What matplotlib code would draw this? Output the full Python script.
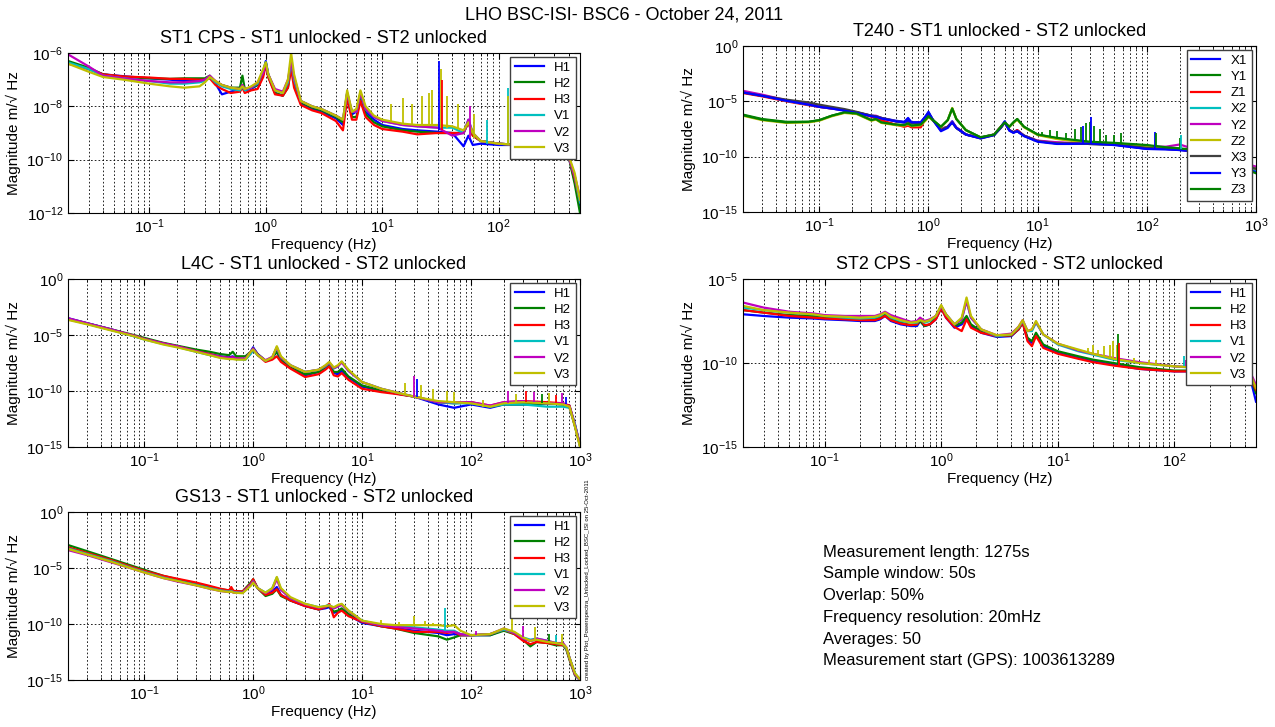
import numpy as np
import matplotlib
matplotlib.use('Agg')
import matplotlib.pyplot as plt
from matplotlib.ticker import LogLocator, NullLocator, NullFormatter

plt.rcParams['font.family'] = ['Liberation Sans', 'DejaVu Sans']
plt.rcParams['mathtext.fontset'] = 'custom'
plt.rcParams['mathtext.rm'] = 'Liberation Sans'

# MATLAB default colour letters
B, G, R, C, M, Y, K = '#0000ff', '#008000', '#ff0000', '#00bfbf', '#bf00bf', '#bfbf00', '#404040'

HV_NAMES = ['H1', 'H2', 'H3', 'V1', 'V2', 'V3']
HV_COLORS = [B, G, R, C, M, Y]
T240_NAMES = ['X1', 'Y1', 'Z1', 'X2', 'Y2', 'Z2', 'X3', 'Y3', 'Z3']
T240_COLORS = [B, G, R, C, M, Y, K, B, G]

# ---------------- ST1 CPS (log10 magnitude) ----------------
cps1_f = [0.02, 0.03, 0.04, 0.06, 0.1, 0.15, 0.2, 0.27, 0.3, 0.33, 0.37, 0.42, 0.5, 0.6, 0.63, 0.66, 0.75,
          0.85, 0.95, 1.0, 1.05, 1.2, 1.4, 1.55, 1.65, 1.75, 2.0, 2.5, 3.0, 4.0, 4.6, 5.0, 5.5, 6.0, 6.5, 7.2,
          8.5, 10, 15, 20, 30, 40, 50, 55, 60, 70, 100, 150, 200, 300, 400, 450, 500]
cps1_h1 = [-6.35, -6.6, -6.8, -6.87, -6.95, -7.0, -7.05, -7.05, -7.0, -6.9, -7.15, -7.55, -7.45, -7.35, -7.2, -7.4,
           -7.35, -7.2, -6.7, -6.3, -6.8, -7.5, -7.6, -7.2, -6.4, -7.0, -7.9, -8.1, -8.2, -8.45, -8.7, -7.5, -8.3,
           -8.2, -7.6, -8.2, -8.5, -8.7, -8.85, -8.9, -8.95, -9.0, -9.5, -9.1, -9.45, -9.4, -9.45, -9.45, -9.45,
           -9.5, -9.9, -10.8, -11.7]
cps1_h2 = [-6.3, -6.55, -6.8, -6.9, -6.95, -6.97, -6.95, -6.95, -6.95, -6.85, -7.1, -7.2, -7.3, -7.3, -6.85, -7.35,
           -7.3, -7.2, -6.8, -6.35, -6.9, -7.5, -7.6, -7.3, -6.5, -7.1, -7.85, -8.05, -8.15, -8.4, -8.6, -7.6, -8.4,
           -8.4, -7.7, -8.3, -8.6, -8.75, -8.9, -8.95, -9.0, -9.0, -9.0, -8.6, -9.1, -9.3, -9.4, -9.45, -9.45,
           -9.5, -9.9, -10.9, -12.0]
cps1_h3 = [-6.4, -6.6, -6.8, -6.88, -6.92, -6.97, -6.97, -7.0, -7.0, -6.95, -7.2, -7.35, -7.5, -7.45, -7.3, -7.5,
           -7.4, -7.35, -6.9, -6.45, -6.9, -7.55, -7.6, -7.3, -6.6, -7.3, -7.95, -8.15, -8.25, -8.55, -8.9, -7.7,
           -8.5, -8.5, -7.8, -8.4, -8.7, -8.85, -8.95, -9.05, -9.0, -9.0, -9.0, -8.6, -9.1, -9.3, -9.4, -9.45,
           -9.45, -9.5, -9.9, -10.7, -11.6]
cps1_v1 = [-6.35, -6.6, -6.85, -6.95, -7.05, -7.15, -7.15, -7.1, -7.05, -6.9, -7.1, -7.25, -7.35, -7.4, -7.25, -7.4,
           -7.3, -7.15, -6.7, -6.35, -6.8, -7.4, -7.5, -7.1, -6.3, -7.0, -7.8, -8.0, -8.1, -8.35, -8.5, -7.5, -8.2,
           -8.2, -7.5, -8.1, -8.4, -8.55, -8.7, -8.75, -8.8, -8.8, -9.0, -8.5, -9.0, -9.3, -9.4, -9.45, -9.45,
           -9.5, -9.9, -10.6, -11.6]
cps1_v2 = [-6.05, -6.5, -6.85, -6.95, -7.05, -7.1, -7.1, -7.05, -7.0, -6.85, -7.05, -7.2, -7.3, -7.35, -7.2, -7.35,
           -7.3, -7.1, -6.75, -6.4, -6.8, -7.35, -7.45, -7.0, -6.3, -6.9, -7.8, -8.0, -8.1, -8.35, -8.5, -7.5, -8.2,
           -8.2, -7.5, -8.1, -8.4, -8.55, -8.7, -8.75, -8.8, -9.1, -9.0, -8.5, -9.0, -9.3, -9.4, -9.45, -9.45,
           -9.5, -9.9, -10.6, -11.4]
cps1_v3 = [-6.4, -6.7, -6.9, -7.0, -7.15, -7.25, -7.3, -7.25, -7.1, -6.9, -7.05, -7.2, -7.3, -7.35, -7.25, -7.35,
           -7.25, -7.1, -6.6, -6.35, -6.8, -7.4, -7.5, -7.0, -6.0, -6.8, -7.8, -8.0, -8.1, -8.35, -8.5, -7.4, -8.2,
           -8.1, -7.4, -8.0, -8.35, -8.5, -8.65, -8.7, -8.7, -8.75, -8.9, -8.6, -9.0, -9.3, -9.4, -9.45, -9.45,
           -9.5, -9.85, -10.5, -11.5]
cps1_spk_f = [12, 15, 18, 22, 25, 27, 31, 32, 32.5, 36, 45, 57, 62, 80, 120, 121]
cps1_spk_lo = [-8.6, -8.7, -8.7, -8.7, -8.7, -8.7, -8.9, -8.8, -8.9, -8.8, -8.8, -9.2, -9.2, -9.4, -9.45, -9.45]
cps1_spk_hi = [-7.9, -7.7, -7.9, -7.6, -7.5, -7.4, -6.3, -6.6, -7.0, -7.6, -7.9, -8.0, -8.3, -8.5, -7.3, -7.6]
cps1_spk_ch = [5, 5, 5, 5, 5, 5, 0, 5, 2, 5, 5, 4, 5, 3, 3, 5]

# ---------------- T240 ----------------
t240_f = [0.02, 0.03, 0.05, 0.08, 0.1, 0.13, 0.17, 0.22, 0.3, 0.33, 0.37, 0.5, 0.6, 0.65, 0.7, 0.85, 0.95, 1.0,
          1.1, 1.3, 1.5, 1.65, 1.8, 2.2, 3.0, 4.0, 4.6, 5.0, 5.5, 6.0, 6.5, 7.5, 10, 15, 20, 30, 50, 100, 150,
          200, 250, 300, 1000]
t240_x1 = [-4.2, -4.5, -4.95, -5.3, -5.5, -5.65, -5.8, -6.0, -6.3, -6.35, -6.5, -6.75, -6.85, -6.5, -6.9, -6.9,
           -6.3, -5.95, -6.7, -7.6, -7.3, -6.8, -7.4, -8.0, -8.3, -8.0, -7.3, -6.8, -7.6, -7.8, -7.6, -8.1, -8.6,
           -8.8, -8.8, -8.85, -8.9, -9.3, -9.3, -9.4, -9.5, -9.6, -11.0]
t240_y1 = [-6.2, -6.6, -6.85, -6.85, -6.7, -6.3, -6.0, -6.1, -6.7, -6.6, -6.9, -7.1, -7.15, -7.0, -7.2, -7.1,
           -6.6, -6.35, -6.7, -7.3, -6.7, -5.65, -6.6, -7.6, -8.25, -8.0, -7.3, -6.9, -7.3, -6.9, -6.6, -7.3, -8.0,
           -8.35, -8.5, -8.7, -8.8, -9.0, -9.2, -9.3, -9.4, -9.5, -11.2]
t240_z1 = [-4.25, -4.55, -5.0, -5.35, -5.5, -5.65, -5.8, -6.0, -6.4, -6.5, -6.7, -7.1, -7.3, -7.2, -7.35, -7.35,
           -6.5, -6.1, -6.7, -7.5, -7.3, -6.9, -7.4, -8.0, -8.3, -8.0, -7.3, -6.9, -7.6, -7.8, -7.6, -8.1, -8.6,
           -8.75, -8.8, -8.85, -8.9, -9.2, -9.3, -9.35, -9.5, -9.6, -11.2]
t240_x2 = [-4.15, -4.45, -4.95, -5.3, -5.45, -5.6, -5.8, -6.0, -6.3, -6.35, -6.5, -6.8, -6.9, -6.8, -6.95, -6.95,
           -6.4, -6.05, -6.7, -7.5, -7.3, -6.9, -7.4, -8.0, -8.3, -8.0, -7.4, -6.9, -7.6, -7.8, -7.7, -8.1, -8.6,
           -8.75, -8.8, -8.85, -8.9, -9.2, -9.3, -9.3, -9.45, -9.6, -11.3]
t240_y2 = [-4.05, -4.4, -4.9, -5.25, -5.45, -5.6, -5.8, -6.0, -6.3, -6.3, -6.5, -6.8, -6.9, -6.8, -6.95, -6.9,
           -6.4, -6.1, -6.7, -7.5, -7.3, -6.85, -7.35, -8.0, -8.3, -8.0, -7.4, -6.9, -7.6, -7.8, -7.7, -8.1, -8.55,
           -8.7, -8.75, -8.8, -8.85, -9.1, -9.1, -8.9, -9.2, -9.4, -10.9]
t240_z2 = [-6.3, -6.7, -6.95, -6.9, -6.75, -6.35, -6.05, -6.15, -6.75, -6.65, -6.95, -7.15, -7.2, -7.05, -7.25,
           -7.15, -6.7, -6.4, -6.75, -7.35, -6.7, -5.6, -6.6, -7.6, -8.3, -8.0, -7.3, -6.95, -7.3, -6.95, -6.65,
           -7.35, -8.05, -8.4, -8.55, -8.7, -8.85, -9.05, -9.2, -9.3, -9.4, -9.5, -11.1]
t240_x3 = [-4.2, -4.5, -4.85, -5.1, -5.3, -5.5, -5.7, -5.95, -6.3, -6.35, -6.5, -6.8, -6.9, -6.8, -6.95, -6.95,
           -6.4, -6.05, -6.7, -7.6, -7.3, -6.9, -7.4, -8.0, -8.35, -8.05, -7.4, -6.9, -7.6, -7.8, -7.7, -8.1, -8.6,
           -8.8, -8.8, -8.85, -8.9, -9.2, -9.3, -9.3, -9.5, -9.6, -11.1]
t240_y3 = [-4.2, -4.5, -4.95, -5.3, -5.5, -5.65, -5.85, -6.05, -6.35, -6.4, -6.55, -6.8, -6.9, -6.7, -6.9, -6.9,
           -6.3, -6.0, -6.7, -7.7, -7.4, -6.9, -7.4, -8.0, -8.35, -8.05, -7.35, -6.85, -7.65, -7.85, -7.7, -8.15,
           -8.65, -8.85, -8.85, -8.8, -8.95, -9.3, -9.35, -9.4, -9.5, -9.6, -11.4]
t240_z3 = [-6.25, -6.65, -6.9, -6.85, -6.7, -6.3, -6.0, -6.1, -6.7, -6.6, -6.9, -7.1, -7.15, -7.0, -7.2, -7.1,
           -6.6, -6.35, -6.7, -7.3, -6.7, -5.65, -6.6, -7.6, -8.25, -8.0, -7.3, -6.9, -7.3, -6.9, -6.6, -7.3, -8.0,
           -8.3, -8.45, -8.65, -8.75, -8.95, -9.15, -9.25, -9.35, -9.5, -11.5]
t240_spk_f = [11, 13, 15, 18, 22, 25, 26, 28, 30, 30.5, 33, 37, 42, 50, 58, 120, 121, 200, 205]
t240_spk_lo = [-8.0, -8.2, -8.3, -8.4, -8.5, -8.6, -8.8, -8.6, -8.7, -8.8, -8.7, -8.7, -8.8, -8.8, -8.9, -9.2,
               -9.1, -9.3, -9.3]
t240_spk_hi = [-7.8, -7.6, -7.7, -7.9, -7.5, -7.3, -7.2, -7.0, -6.9, -6.4, -7.2, -7.5, -8.0, -8.0, -7.9, -7.8,
               -7.9, -8.3, -8.0]
t240_spk_ch = [8, 8, 8, 8, 8, 8, 0, 8, 8, 0, 8, 8, 8, 8, 8, 0, 8, 8, 3]

# ---------------- L4C ----------------
l4c_f = [0.02, 0.03, 0.05, 0.08, 0.1, 0.15, 0.2, 0.3, 0.4, 0.5, 0.6, 0.65, 0.7, 0.85, 0.95, 1.0, 1.1, 1.3, 1.5,
         1.65, 1.8, 2.2, 3.0, 4.0, 4.6, 5.0, 5.5, 6.0, 6.5, 7.5, 10, 15, 20, 30, 50, 70, 100, 150, 200, 300, 500,
         700, 800, 900, 1000]
l4c_h1 = [-3.5, -3.95, -4.5, -5.1, -5.35, -5.75, -6.0, -6.4, -6.7, -6.9, -7.0, -6.9, -7.1, -7.15, -6.5, -6.1,
          -6.7, -7.3, -7.0, -6.5, -7.2, -7.9, -8.6, -8.3, -7.9, -7.6, -8.4, -8.5, -8.2, -8.8, -9.6, -10.0, -10.2,
          -10.5, -11.2, -11.5, -11.2, -11.5, -11.2, -11.2, -11.1, -11.2, -11.3, -13.0, -14.8]
l4c_h2 = [-3.55, -3.95, -4.5, -5.0, -5.25, -5.7, -5.95, -6.3, -6.5, -6.7, -6.8, -6.5, -6.9, -6.9, -6.5, -6.2,
          -6.7, -7.3, -7.0, -6.5, -7.2, -7.9, -8.5, -8.3, -7.9, -7.6, -8.3, -8.3, -8.0, -8.7, -9.5, -9.95, -10.2,
          -10.5, -11.0, -11.1, -11.0, -11.4, -11.2, -11.2, -11.1, -11.2, -11.4, -13.2, -14.9]
l4c_h3 = [-3.6, -4.0, -4.55, -5.05, -5.35, -5.75, -6.0, -6.45, -6.7, -6.95, -7.05, -7.0, -7.1, -7.15, -6.6, -6.3,
          -6.8, -7.4, -7.2, -6.9, -7.4, -8.0, -8.75, -8.5, -8.1, -7.8, -8.6, -8.7, -8.4, -9.0, -9.8, -10.1, -10.25,
          -10.5, -11.0, -11.0, -11.0, -11.3, -11.0, -10.9, -11.0, -11.1, -11.3, -13.1, -14.8]
l4c_v1 = [-3.55, -4.0, -4.55, -5.1, -5.4, -5.8, -6.05, -6.5, -6.8, -7.0, -7.1, -7.1, -7.15, -7.2, -6.7, -6.35,
          -6.8, -7.3, -7.0, -6.1, -7.0, -7.7, -8.3, -8.1, -7.8, -7.5, -8.0, -7.8, -7.4, -8.2, -9.2, -9.8, -10.1,
          -10.5, -11.0, -11.1, -11.1, -11.4, -11.2, -11.2, -11.4, -11.4, -11.5, -13.0, -14.9]
l4c_v2 = [-3.5, -3.95, -4.5, -5.05, -5.35, -5.75, -6.0, -6.45, -6.75, -6.95, -7.05, -7.0, -7.1, -7.1, -6.5, -6.2,
          -6.75, -7.25, -6.95, -6.1, -7.0, -7.7, -8.3, -8.1, -7.75, -7.45, -7.95, -7.8, -7.45, -8.2, -9.2, -9.8,
          -10.1, -10.5, -11.0, -11.0, -11.0, -11.3, -11.0, -10.9, -11.1, -11.1, -11.4, -13.1, -14.9]
l4c_v3 = [-3.65, -4.05, -4.6, -5.1, -5.4, -5.85, -6.1, -6.5, -6.8, -7.05, -7.15, -7.15, -7.2, -7.2, -6.5, -6.3,
          -6.8, -7.3, -7.0, -6.0, -6.9, -7.7, -8.3, -8.1, -7.7, -7.4, -7.9, -7.7, -7.35, -8.1, -9.2, -9.8, -10.1,
          -10.5, -10.9, -11.0, -11.1, -11.4, -11.1, -11.0, -11.1, -11.2, -11.4, -13.2, -15.0]
l4c_spk_f = [25, 30, 32, 35, 45, 60, 70, 130, 220, 260, 320, 380, 450, 520, 600, 680, 750]
l4c_spk_lo = [-10.3, -10.5, -10.5, -10.6, -10.9, -11.0, -11.0, -11.4, -11.1, -11.1, -11.0, -11.0, -11.1, -11.1,
              -11.1, -11.1, -11.2]
l4c_spk_hi = [-9.3, -8.7, -8.9, -9.5, -9.8, -10.0, -10.1, -10.8, -10.0, -10.3, -10.0, -10.1, -10.3, -10.2, -10.4,
              -10.2, -10.5]
l4c_spk_ch = [5, 4, 0, 5, 5, 5, 5, 5, 4, 5, 2, 4, 1, 5, 2, 4, 0]

# ---------------- ST2 CPS ----------------
cps2_f = [0.02, 0.03, 0.05, 0.08, 0.1, 0.15, 0.2, 0.27, 0.3, 0.33, 0.37, 0.45, 0.55, 0.62, 0.66, 0.72, 0.8, 0.9,
          1.0, 1.1, 1.3, 1.5, 1.65, 1.8, 2.2, 3.0, 4.0, 4.6, 5.0, 5.5, 6.0, 6.5, 7.5, 10, 15, 20, 30, 50, 100, 200,
          400, 450, 500]
cps2_h1 = [-7.1, -7.2, -7.3, -7.35, -7.4, -7.45, -7.5, -7.5, -7.4, -7.2, -7.5, -7.7, -7.8, -7.8, -7.5, -7.8,
           -7.7, -7.4, -6.7, -7.3, -7.9, -7.7, -7.3, -7.8, -8.2, -8.45, -8.4, -8.0, -7.6, -8.6, -8.8, -8.3, -9.0,
           -9.4, -9.7, -9.9, -10.1, -10.35, -10.5, -10.5, -10.45, -11.0, -12.3]
cps2_h2 = [-6.85, -7.0, -7.15, -7.2, -7.3, -7.35, -7.4, -7.4, -7.3, -7.1, -7.4, -7.6, -7.75, -7.7, -7.5, -7.8,
           -7.7, -7.3, -6.7, -7.2, -7.8, -7.6, -7.2, -7.7, -8.1, -8.4, -8.35, -8.0, -7.6, -8.5, -8.7, -8.2, -8.9,
           -9.3, -9.6, -9.8, -10.0, -10.25, -10.45, -10.45, -10.45, -10.9, -11.8]
cps2_h3 = [-6.85, -7.0, -7.2, -7.3, -7.35, -7.4, -7.45, -7.45, -7.35, -7.2, -7.45, -7.65, -7.75, -7.7, -7.35,
           -7.75, -7.7, -7.4, -6.75, -7.3, -7.85, -8.1, -7.4, -7.9, -8.2, -8.4, -8.35, -8.0, -7.6, -8.7, -9.0, -8.4,
           -9.1, -9.45, -9.75, -9.95, -10.15, -10.35, -10.5, -10.5, -10.45, -10.9, -11.6]
cps2_v1 = [-6.7, -6.85, -7.0, -7.1, -7.2, -7.3, -7.35, -7.3, -7.2, -7.0, -7.3, -7.5, -7.6, -7.6, -7.4, -7.6,
           -7.5, -7.2, -6.6, -7.1, -7.7, -7.4, -6.3, -7.3, -8.0, -8.4, -8.3, -7.9, -7.5, -8.1, -8.1, -7.6, -8.3,
           -8.9, -9.3, -9.5, -9.8, -10.0, -10.2, -10.35, -10.35, -10.7, -11.4]
cps2_v2 = [-6.4, -6.7, -6.95, -7.05, -7.15, -7.2, -7.2, -7.2, -7.1, -6.95, -7.15, -7.35, -7.55, -7.5, -7.3,
           -7.5, -7.4, -7.2, -6.6, -7.1, -7.7, -7.4, -6.3, -7.3, -8.0, -8.35, -8.25, -7.85, -7.45, -8.1, -8.0,
           -7.55, -8.3, -8.85, -9.25, -9.45, -9.7, -9.95, -10.2, -10.3, -10.3, -10.6, -11.3]
cps2_v3 = [-6.6, -6.85, -7.0, -7.1, -7.2, -7.25, -7.3, -7.25, -7.15, -7.0, -7.25, -7.45, -7.6, -7.55, -7.45,
           -7.55, -7.45, -7.2, -6.55, -7.1, -7.7, -7.3, -6.1, -7.2, -8.0, -8.35, -8.3, -7.85, -7.45, -8.1, -8.0,
           -7.5, -8.3, -8.85, -9.2, -9.45, -9.75, -10.0, -10.2, -10.3, -10.35, -10.7, -11.5]
cps2_spk_f = [12, 15, 18, 20, 22, 25, 28, 30, 32, 33, 33.5, 45, 60, 70, 120, 125]
cps2_spk_lo = [-9.0, -9.3, -9.4, -9.45, -9.5, -9.6, -9.7, -9.75, -9.8, -10.1, -10.2, -9.9, -10.1, -10.1, -10.2,
               -10.2]
cps2_spk_hi = [-9.0, -9.2, -9.1, -8.9, -9.2, -9.0, -8.9, -8.7, -8.9, -8.3, -8.8, -9.7, -9.8, -9.85, -9.6, -9.8]
cps2_spk_ch = [5, 5, 5, 5, 5, 5, 5, 5, 5, 1, 2, 5, 5, 5, 3, 4]

# ---------------- GS13 ----------------
gs13_f = [0.02, 0.03, 0.05, 0.08, 0.1, 0.15, 0.2, 0.3, 0.4, 0.5, 0.6, 0.63, 0.66, 0.8, 0.95, 1.0, 1.1, 1.3, 1.5,
          1.65, 1.8, 2.2, 3.0, 4.0, 4.6, 5.0, 5.5, 6.0, 6.5, 7.5, 10, 15, 20, 30, 50, 60, 70, 80, 100, 150, 200,
          250, 300, 350, 400, 500, 600, 700, 750, 800, 900, 1000]
gs13_h1 = [-3.2, -3.7, -4.35, -5.0, -5.3, -5.8, -6.1, -6.5, -6.8, -7.0, -7.1, -7.0, -7.15, -7.2, -6.4, -6.1, -6.8,
           -7.4, -7.1, -6.7, -7.4, -7.9, -8.4, -8.7, -8.6, -8.5, -9.0, -8.9, -8.7, -9.2, -9.9, -10.2, -10.35,
           -10.6, -10.8, -11.0, -10.9, -11.0, -11.0, -11.0, -10.5, -10.8, -11.3, -11.5, -11.4, -11.6, -11.8, -11.8,
           -12.2, -13.0, -14.5, -15.0]
gs13_h2 = [-2.95, -3.5, -4.2, -4.85, -5.15, -5.7, -6.0, -6.4, -6.7, -6.9, -7.0, -6.9, -7.05, -7.1, -6.3, -6.0,
           -6.8, -7.5, -7.3, -6.9, -7.5, -7.9, -8.35, -8.7, -8.5, -8.4, -8.9, -8.8, -8.6, -9.1, -9.8, -10.2, -10.4,
           -10.8, -11.1, -11.4, -11.2, -11.0, -11.0, -11.0, -10.6, -10.9, -11.4, -12.0, -11.6, -11.7, -11.9, -11.9,
           -12.3, -13.2, -14.6, -15.0]
gs13_h3 = [-3.15, -3.65, -4.3, -4.95, -5.25, -5.7, -5.95, -6.3, -6.6, -6.85, -7.0, -6.7, -7.05, -7.1, -6.4, -6.0,
           -6.8, -7.4, -7.2, -6.9, -7.4, -7.9, -8.4, -8.7, -8.5, -8.2, -9.4, -9.0, -8.8, -9.3, -9.8, -10.2, -10.4,
           -10.7, -10.7, -10.8, -10.7, -11.0, -11.0, -10.9, -10.5, -10.9, -11.5, -11.8, -11.6, -11.7, -11.8, -11.9,
           -12.2, -13.1, -14.5, -14.9]
gs13_v1 = [-3.25, -3.75, -4.4, -5.05, -5.35, -5.85, -6.15, -6.5, -6.8, -7.0, -7.1, -7.05, -7.15, -7.2, -6.5, -6.2,
           -6.8, -7.2, -6.8, -5.85, -6.9, -7.7, -8.2, -8.5, -8.4, -8.3, -8.6, -8.4, -8.25, -8.8, -9.7, -10.1, -10.2,
           -10.3, -10.5, -10.6, -10.6, -10.9, -11.0, -10.9, -10.5, -10.8, -11.2, -11.4, -11.3, -11.5, -11.7, -11.8,
           -12.2, -13.0, -14.4, -15.0]
gs13_v2 = [-3.4, -3.85, -4.5, -5.1, -5.4, -5.9, -6.2, -6.55, -6.85, -7.05, -7.15, -7.1, -7.2, -7.2, -6.5, -6.2,
           -6.8, -7.25, -6.9, -6.0, -6.95, -7.7, -8.25, -8.55, -8.45, -8.35, -8.6, -8.45, -8.3, -8.85, -9.75,
           -10.1, -10.25, -10.4, -10.6, -10.7, -10.7, -10.9, -11.0, -10.9, -10.4, -10.8, -11.3, -11.5, -11.3, -11.5,
           -11.7, -11.7, -12.1, -13.0, -14.5, -15.0]
gs13_v3 = [-3.3, -3.8, -4.45, -5.1, -5.4, -5.9, -6.15, -6.55, -6.85, -7.05, -7.15, -7.1, -7.2, -7.25, -6.6, -6.3,
           -6.8, -7.2, -6.8, -5.8, -6.8, -7.6, -8.2, -8.5, -8.4, -8.35, -8.5, -8.3, -8.2, -8.8, -9.7, -10.0, -10.1,
           -10.1, -10.1, -10.2, -10.1, -10.6, -11.0, -10.9, -10.4, -10.7, -11.2, -11.5, -11.4, -11.6, -11.7, -11.8,
           -12.1, -13.0, -14.4, -14.95]
gs13_spk_f = [15, 22, 30, 38, 45, 58, 110, 240, 300, 390, 520, 600, 680]
gs13_spk_lo = [-10.1, -10.2, -10.2, -10.2, -10.2, -10.6, -11.0, -10.7, -11.2, -11.4, -11.5, -11.6, -11.7]
gs13_spk_hi = [-9.6, -9.8, -9.3, -9.7, -9.9, -8.6, -10.6, -9.4, -10.2, -10.3, -10.9, -11.0, -10.9]
gs13_spk_ch = [5, 5, 5, 5, 5, 3, 4, 5, 4, 5, 1, 3, 5]

INFO_LINES = ['Measurement length: 1275s', 'Sample window: 50s', 'Overlap: 50%',
              'Frequency resolution: 20mHz', 'Averages: 50', 'Measurement start (GPS): 1003613289']


def draw_panel(ax, freqs, curves, names, colors, spikes, xmax, ylim, yticks, title):
    for vals, name, col in zip(curves, names, colors):
        ax.plot(freqs, 10.0 ** np.array(vals), color=col, lw=1.6, label=name)
    for f, lo, hi, ch in zip(*spikes):
        ax.vlines(f, 10.0 ** lo, 10.0 ** hi, color=colors[ch], lw=1.3)
    ax.set_xscale('log')
    ax.set_yscale('log')
    ax.set_xlim(0.02, xmax)
    ax.set_ylim(*ylim)
    ax.set_xticks([t for t in [0.1, 1, 10, 100, 1000] if t <= xmax])
    ax.xaxis.set_minor_locator(LogLocator(base=10, subs=range(2, 10), numticks=30))
    ax.xaxis.set_minor_formatter(NullFormatter())
    ax.set_yticks(yticks)
    ax.yaxis.set_minor_locator(NullLocator())
    grid_kw = dict(color='k', lw=0.6, ls=(0, (2, 2.5)))
    ax.grid(True, which='major', axis='both', **grid_kw)
    ax.grid(True, which='minor', axis='x', **grid_kw)
    ax.tick_params(which='both', direction='in', top=True, right=True, labelsize=11)
    ax.tick_params(which='major', length=4)
    ax.tick_params(which='minor', length=2)
    for s in ax.spines.values():
        s.set_linewidth(0.8)
    ax.set_xlabel('Frequency (Hz)', fontsize=11, labelpad=1)
    ax.set_ylabel('Magnitude m/√ Hz', fontsize=11)
    ax.set_title(title, fontsize=13, pad=7)
    ax.legend(loc='upper right', fontsize=9.5, fancybox=False, edgecolor='#404040', framealpha=1,
              handlelength=2.2, borderaxespad=0.3, labelspacing=0.3, borderpad=0.35)


W, H = 1275, 727
fig = plt.figure(figsize=(W / 100, H / 100), dpi=100)


def axes_px(x0, y0, x1, y1):
    return fig.add_axes([x0 / W, 1 - y1 / H, (x1 - x0) / W, (y1 - y0) / H])


ax1 = axes_px(68, 53, 580, 213)
ax2 = axes_px(743, 46, 1256, 212)
ax3 = axes_px(68, 279, 580, 447)
ax4 = axes_px(743, 279, 1256, 447)
ax5 = axes_px(68, 512, 580, 680)

draw_panel(ax1, cps1_f, [cps1_h1, cps1_h2, cps1_h3, cps1_v1, cps1_v2, cps1_v3], HV_NAMES, HV_COLORS,
           (cps1_spk_f, cps1_spk_lo, cps1_spk_hi, cps1_spk_ch), 500, (1e-12, 1e-6),
           [1e-12, 1e-10, 1e-8, 1e-6], 'ST1 CPS - ST1 unlocked - ST2 unlocked')
draw_panel(ax2, t240_f, [t240_x1, t240_y1, t240_z1, t240_x2, t240_y2, t240_z2, t240_x3, t240_y3, t240_z3],
           T240_NAMES, T240_COLORS, (t240_spk_f, t240_spk_lo, t240_spk_hi, t240_spk_ch), 1000, (1e-15, 1),
           [1e-15, 1e-10, 1e-5, 1], 'T240 - ST1 unlocked - ST2 unlocked')
draw_panel(ax3, l4c_f, [l4c_h1, l4c_h2, l4c_h3, l4c_v1, l4c_v2, l4c_v3], HV_NAMES, HV_COLORS,
           (l4c_spk_f, l4c_spk_lo, l4c_spk_hi, l4c_spk_ch), 1000, (1e-15, 1),
           [1e-15, 1e-10, 1e-5, 1], 'L4C - ST1 unlocked - ST2 unlocked')
draw_panel(ax4, cps2_f, [cps2_h1, cps2_h2, cps2_h3, cps2_v1, cps2_v2, cps2_v3], HV_NAMES, HV_COLORS,
           (cps2_spk_f, cps2_spk_lo, cps2_spk_hi, cps2_spk_ch), 500, (1e-15, 1e-5),
           [1e-15, 1e-10, 1e-5], 'ST2 CPS - ST1 unlocked - ST2 unlocked')
draw_panel(ax5, gs13_f, [gs13_h1, gs13_h2, gs13_h3, gs13_v1, gs13_v2, gs13_v3], HV_NAMES, HV_COLORS,
           (gs13_spk_f, gs13_spk_lo, gs13_spk_hi, gs13_spk_ch), 1000, (1e-15, 1),
           [1e-15, 1e-10, 1e-5, 1], 'GS13 - ST1 unlocked - ST2 unlocked')

fig.text(624 / W, 1 - 15 / H, 'LHO BSC-ISI- BSC6 - October 24, 2011', ha='center', va='center', fontsize=13)
for i, line in enumerate(INFO_LINES):
    fig.text(823 / W, 1 - (552 + i * 21.8) / H, line, ha='left', va='center', fontsize=12)
fig.text(587 / W, 1 - 680 / H, 'created by Plot_Powerspectra_Unlocked_Locked_BSC_ISI on 25-Oct-2011',
         rotation=90, ha='center', va='bottom', fontsize=4.3)

fig.savefig('out.png', dpi=100)
